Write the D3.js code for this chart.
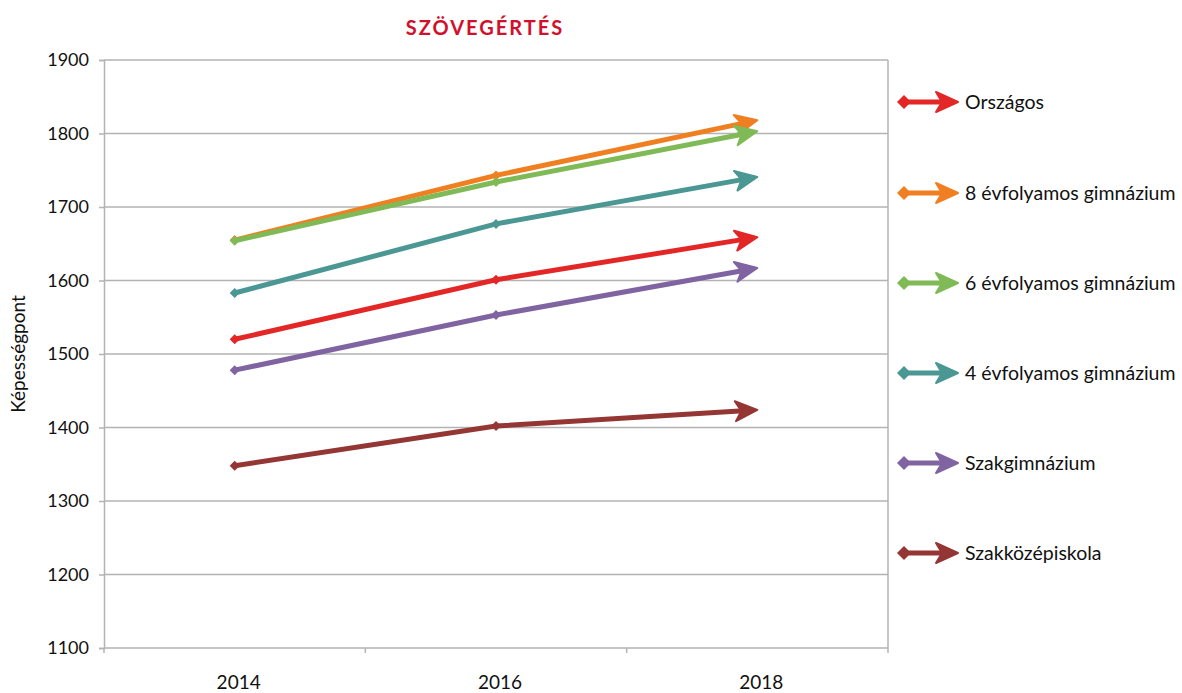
<!DOCTYPE html>
<html><head><meta charset="utf-8">
<script src="https://cdn.jsdelivr.net/npm/d3@7"></script>
<style>body{margin:0;background:#fff}svg{display:block}text{font-family:Lato,"Open Sans",sans-serif}</style>
</head><body>
<svg id="c" width="1182" height="693"></svg>
<script>
const years = ["2014", "2016", "2018"];
const seriesNames = ["Országos", "8 évfolyamos gimnázium", "6 évfolyamos gimnázium", "4 évfolyamos gimnázium", "Szakgimnázium", "Szakközépiskola"];
const orszagos = [1520, 1601, 1659];
const evf8 = [1655, 1743, 1818];
const evf6 = [1654, 1734, 1803];
const evf4 = [1583, 1677, 1741];
const szakgimn = [1478, 1553, 1617];
const szakkozep = [1348, 1402, 1424];
const yTicks = [1100, 1200, 1300, 1400, 1500, 1600, 1700, 1800, 1900];
const colors = ["#e32726", "#f07f22", "#7fba57", "#4a9793", "#8064a2", "#943634"];
const allValues = [orszagos, evf8, evf6, evf4, szakgimn, szakkozep];

const svg = d3.select("#c");
const L = 104, R = 888, T = 60, B = 648;
const x = d3.scaleBand().domain(years).range([L, R]);
const y = d3.scaleLinear().domain([1100, 1900]).range([B, T]);

svg.append("g").selectAll("line").data(yTicks).join("line")
  .attr("x1", L).attr("x2", R).attr("y1", d => y(d)).attr("y2", d => y(d))
  .attr("stroke", "#b3b3b3").attr("stroke-width", 1.5);
svg.append("line").attr("x1", R).attr("x2", R).attr("y1", T).attr("y2", B).attr("stroke", "#b3b3b3").attr("stroke-width", 1.5);

const ya = svg.append("g").attr("transform", `translate(${L},0)`)
  .call(d3.axisLeft(y).tickValues(yTicks).tickSize(5).tickPadding(10).tickFormat(d3.format("d")));
ya.select(".domain").attr("stroke", "#b3b3b3").attr("stroke-width", 1.5);
ya.selectAll(".tick line").attr("stroke", "#b3b3b3").attr("stroke-width", 1.5);
ya.selectAll("text").attr("font-size", 18).attr("fill", "#111").attr("font-family", "Lato, sans-serif");

const xa = svg.append("g").attr("transform", `translate(0,${B})`)
  .call(d3.axisBottom(x).tickSize(0).tickPadding(28));
xa.select(".domain").remove();
xa.selectAll("text").attr("font-size", 19).attr("dx", 4).attr("fill", "#111").attr("font-family", "Lato, sans-serif");
const bounds = years.map(d => x(d)).concat([R]);
svg.append("g").selectAll("line").data(bounds).join("line")
  .attr("x1", d => d).attr("x2", d => d).attr("y1", B).attr("y2", B + 5)
  .attr("stroke", "#b3b3b3").attr("stroke-width", 1.5);

svg.append("text").attr("x", 485).attr("y", 35).attr("text-anchor", "middle")
  .attr("font-size", 20).attr("font-weight", "bold").attr("letter-spacing", 2).attr("fill", "#d0102c").text("SZÖVEGÉRTÉS");
svg.append("text").attr("transform", "translate(25,354) rotate(-90)").attr("text-anchor", "middle")
  .attr("font-size", 19).attr("fill", "#111").text("Képességpont");

const diamond = (cx, cy, r) => `M${cx - r},${cy}L${cx},${cy - r}L${cx + r},${cy}L${cx},${cy + r}Z`;
function arrowPath(x0, y0, x1, y1) {
  const a = Math.atan2(y1 - y0, x1 - x0);
  const len = 22, hw = 10, notch = 6;
  const cos = Math.cos(a), sin = Math.sin(a);
  const p = (u, v) => [x1 + u * cos - v * sin, y1 + u * sin + v * cos];
  const pts = [p(0, 0), p(-len, -hw), p(-len + notch, 0), p(-len, hw)];
  return "M" + pts.map(q => q.join(",")).join("L") + "Z";
}
function arrowLineEnd(x0, y0, x1, y1) {
  const a = Math.atan2(y1 - y0, x1 - x0);
  return [x1 - 14 * Math.cos(a), y1 - 14 * Math.sin(a)];
}

const line = d3.line().x(d => d[0]).y(d => d[1]);
allValues.forEach((vals, i) => {
  const g = svg.append("g");
  const pts = vals.map((v, j) => [x(years[j]) + x.bandwidth() / 2, y(v)]);
  const n = pts.length;
  const end = arrowLineEnd(pts[n - 2][0], pts[n - 2][1], pts[n - 1][0], pts[n - 1][1]);
  const lp = pts.slice(0, n - 1).concat([end]);
  g.append("path").attr("d", line(lp)).attr("fill", "none").attr("stroke", colors[i]).attr("stroke-width", 5);
  pts.slice(0, n - 1).forEach(q => g.append("path").attr("d", diamond(q[0], q[1], 5)).attr("fill", colors[i]));
  g.append("path").attr("d", arrowPath(pts[n - 2][0], pts[n - 2][1], pts[n - 1][0], pts[n - 1][1]))
    .attr("fill", colors[i]).attr("stroke", colors[i]).attr("stroke-width", 2).attr("stroke-linejoin", "round");
});

const legY = [102, 193, 283, 373, 463, 553];
seriesNames.forEach((name, i) => {
  const g = svg.append("g");
  const cy = legY[i];
  g.append("line").attr("x1", 903).attr("x2", 945).attr("y1", cy).attr("y2", cy).attr("stroke", colors[i]).attr("stroke-width", 5);
  g.append("path").attr("d", diamond(904, cy, 7)).attr("fill", colors[i]);
  g.append("path").attr("d", arrowPath(900, cy, 958, cy)).attr("fill", colors[i]).attr("stroke", colors[i]).attr("stroke-width", 2).attr("stroke-linejoin", "round");
  g.append("text").attr("x", 965).attr("y", cy + 7).attr("font-size", 19.5).attr("fill", "#111").text(name);
});
</script>
</body></html>
